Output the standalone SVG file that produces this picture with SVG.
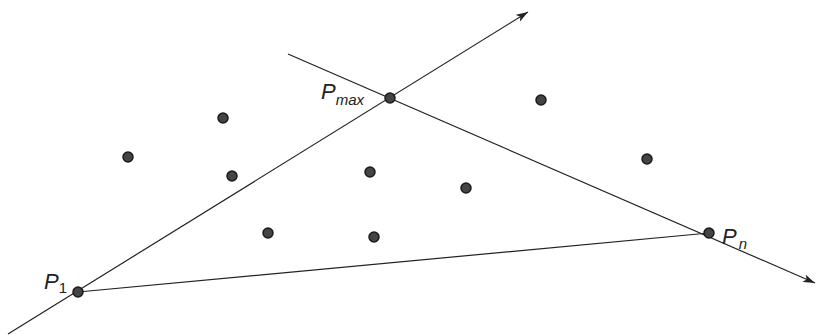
<svg xmlns="http://www.w3.org/2000/svg" width="817" height="335" viewBox="0 0 817 335">
<defs>
<style>
.ln{stroke:#222;stroke-width:1.2;fill:none}
.dot{fill:#444;stroke:#1a1a1a;stroke-width:1.5}
.lb{font-family:"Liberation Sans",Arial,sans-serif;font-style:italic;fill:#222}
</style>
<marker id="ah" viewBox="0 0 12 8" refX="12" refY="4" markerWidth="12" markerHeight="8" markerUnits="userSpaceOnUse" orient="auto">
<path d="M0,0 L12,4 L0,8 L3,4 Z" fill="#222"/>
</marker>
</defs>
<rect width="817" height="335" fill="#fff"/>
<g id="connectors">
<line class="ln" x1="8" y1="334" x2="528" y2="12" marker-end="url(#ah)"/>
<line class="ln" x1="288" y1="54" x2="815" y2="283" marker-end="url(#ah)"/>
<line class="ln" x1="78" y1="292" x2="709" y2="233"/>
</g>
<g id="P1"><circle class="dot" cx="78" cy="292" r="5"/><text class="lb" x="44" y="289" font-size="22">P<tspan font-size="15" dy="4" font-style="normal">1</tspan></text></g>
<g id="Pmax"><circle class="dot" cx="390" cy="98" r="5"/><text class="lb" x="321" y="99" font-size="22">P<tspan font-size="15" dy="6">max</tspan></text></g>
<g id="Pn"><circle class="dot" cx="709" cy="233" r="5"/><text class="lb" x="722" y="244" font-size="22">P<tspan font-size="15" dy="5" dx="2">n</tspan></text></g>
<g id="pt1"><circle class="dot" cx="223" cy="118" r="5"/></g>
<g id="pt2"><circle class="dot" cx="128" cy="157" r="5"/></g>
<g id="pt3"><circle class="dot" cx="232" cy="176" r="5"/></g>
<g id="pt4"><circle class="dot" cx="370" cy="172" r="5"/></g>
<g id="pt5"><circle class="dot" cx="466" cy="188" r="5"/></g>
<g id="pt6"><circle class="dot" cx="268" cy="233" r="5"/></g>
<g id="pt7"><circle class="dot" cx="374" cy="237" r="5"/></g>
<g id="pt8"><circle class="dot" cx="541" cy="100" r="5"/></g>
<g id="pt9"><circle class="dot" cx="647" cy="159" r="5"/></g>
</svg>
